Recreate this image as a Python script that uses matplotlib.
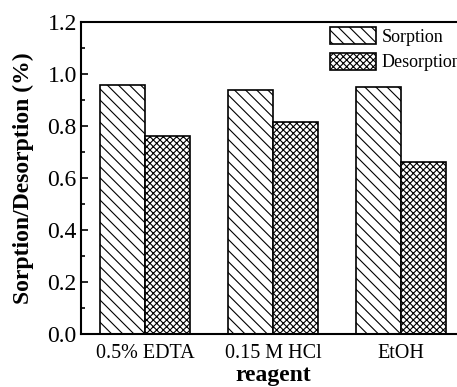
import matplotlib.pyplot as plt
import numpy as np
from matplotlib.ticker import MultipleLocator

plt.rcParams['font.family'] = 'Liberation Serif'
plt.rcParams['hatch.linewidth'] = 0.8

reagents = ['0.5% EDTA', '0.15 M HCl', 'EtOH']
sorption = [0.958, 0.937, 0.950]
desorption = [0.763, 0.814, 0.660]

fig = plt.figure(figsize=(4.57, 3.87), dpi=100)
ax = fig.add_axes([81 / 457, 53 / 387, 384 / 457, 312 / 387])

x = np.arange(len(reagents))
w = 0.35
ax.bar(x - w / 2, sorption, w, color='white', edgecolor='black', lw=1.2,
       hatch='\\' * 3, label='Sorption')
ax.bar(x + w / 2, desorption, w, color='white', edgecolor='black', lw=1.2,
       hatch='x' * 5, label='Desorption')

ax.set_xlim(-0.5, 2.5)
ax.set_ylim(0, 1.2)
ax.set_xticks(x)
ax.set_xticklabels(reagents, fontsize=14.5)
ax.yaxis.set_major_locator(MultipleLocator(0.2))
ax.yaxis.set_minor_locator(MultipleLocator(0.1))
ax.tick_params(axis='y', which='major', direction='in', length=5, width=1.2,
               labelsize=17, pad=3)
ax.tick_params(axis='y', which='minor', direction='in', length=3, width=1.2)
ax.tick_params(axis='x', length=0, pad=7)
for s in ax.spines.values():
    s.set_linewidth(1.5)

ax.set_ylabel('Sorption/Desorption (%)', fontsize=17, fontweight='bold', labelpad=10)
ax.set_xlabel('reagent', fontsize=17, fontweight='bold', labelpad=2)

ax.legend(loc='upper left', bbox_to_anchor=(0.626, (334 - 18) / 312), frameon=False,
          fontsize=13, borderpad=0, handlelength=2.55, handleheight=1.05,
          handletextpad=0.3, labelspacing=0.4)

plt.savefig('out.png', dpi=100)
